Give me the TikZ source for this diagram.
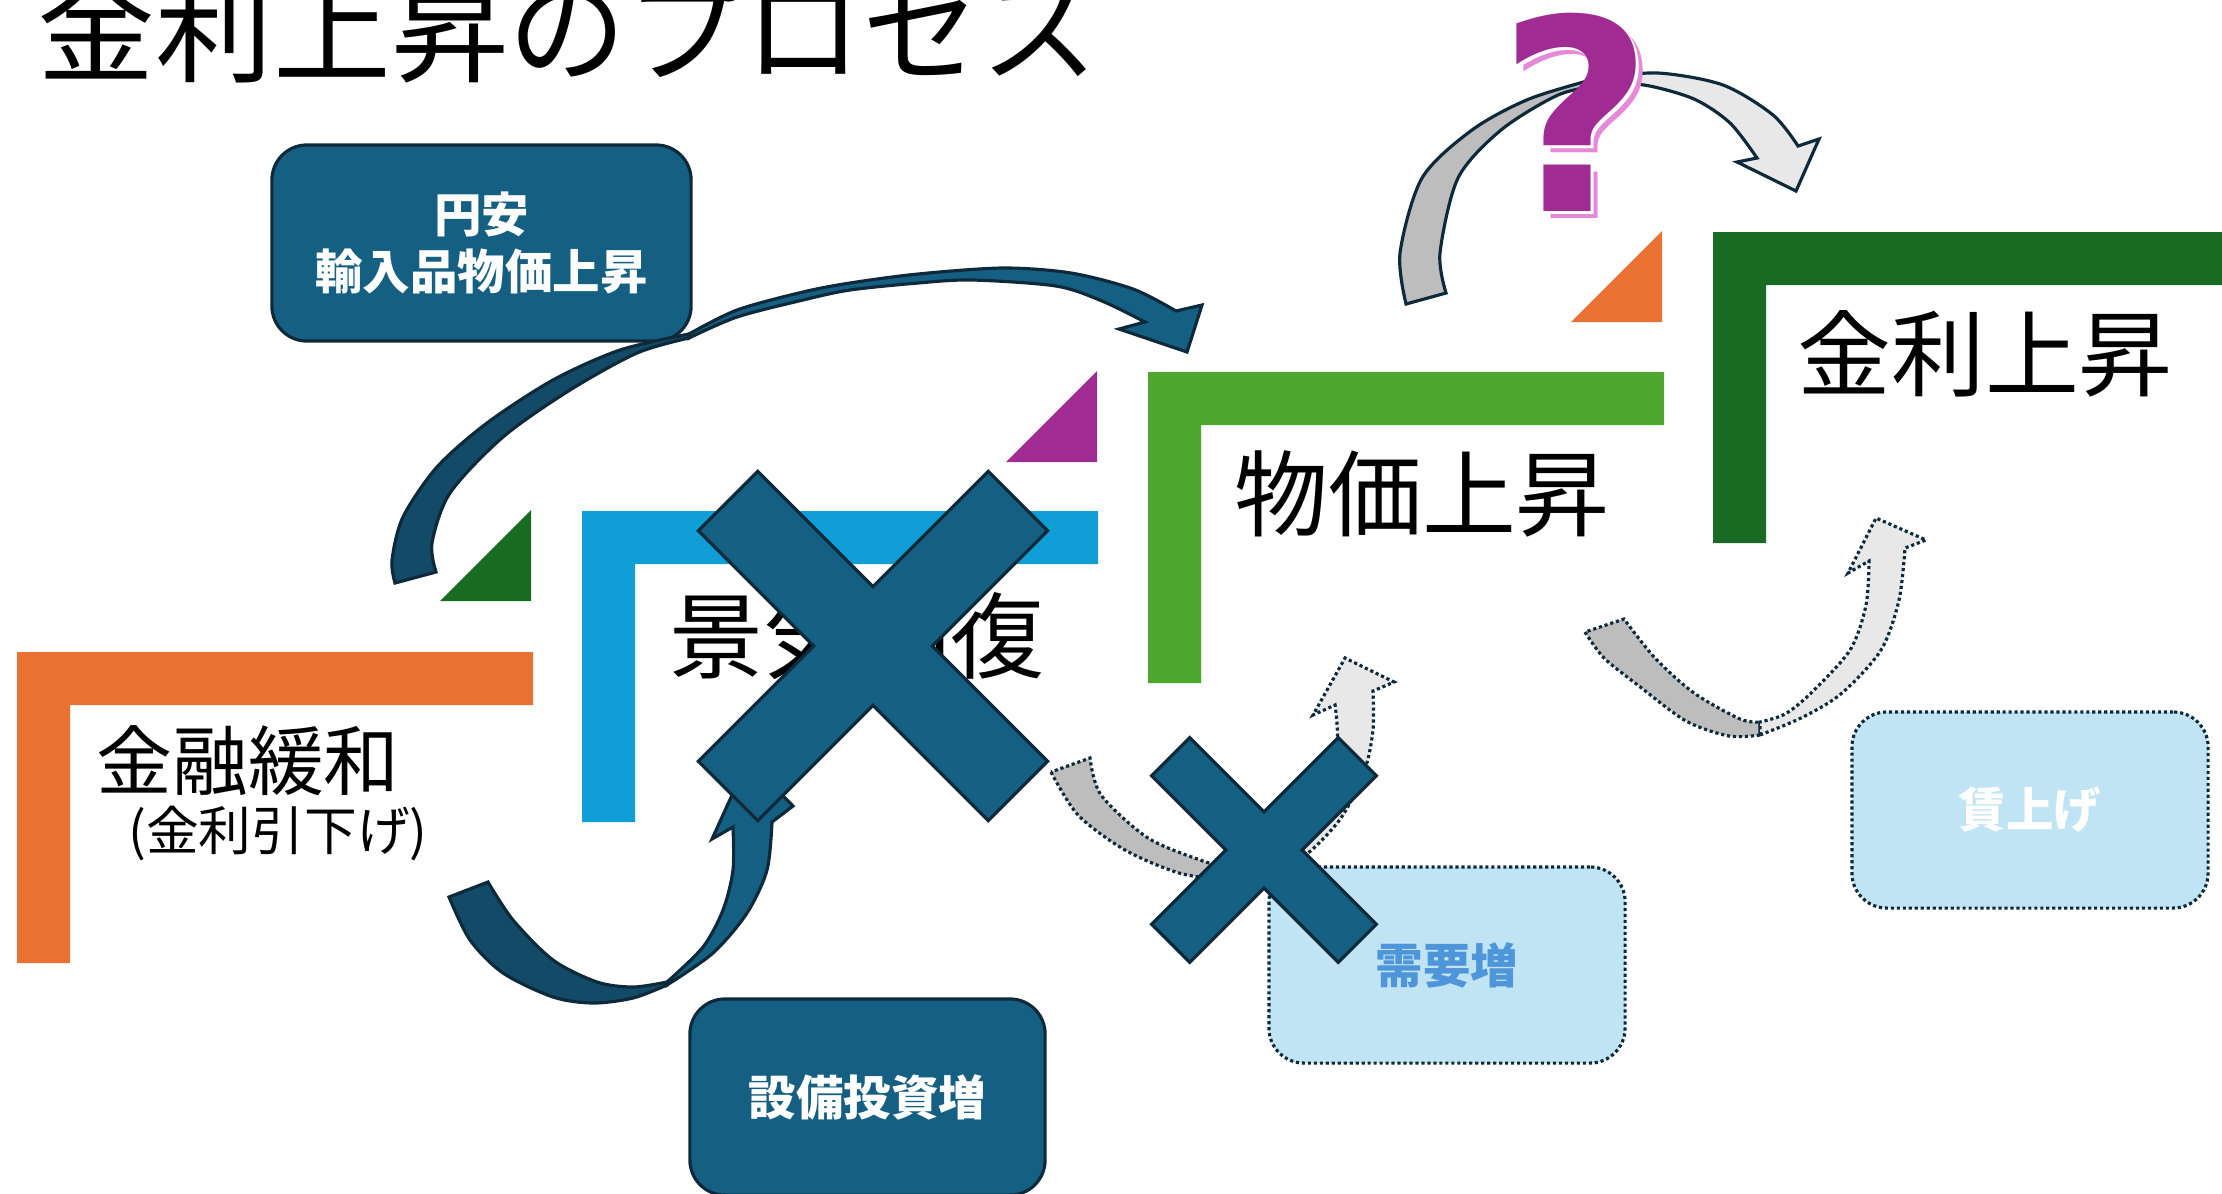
\documentclass[tikz,border=0pt]{standalone}
\usepackage{fontspec}
\setmainfont{Noto Sans CJK JP}
\newfontfamily\qfont{DejaVu Sans}
\usetikzlibrary{positioning}
\definecolor{korange}{HTML}{E97132}
\definecolor{kblue}{HTML}{0F9ED5}
\definecolor{kgreen}{HTML}{4EA72E}
\definecolor{kdgreen}{HTML}{196B24}
\definecolor{kmagenta}{HTML}{A02B93}
\definecolor{kpink}{HTML}{E58AD8}
\definecolor{knavy}{HTML}{156082}
\definecolor{knavydark}{HTML}{134A68}
\definecolor{kline}{HTML}{0E2A3A}
\definecolor{kpale}{HTML}{C1E4F5}
\definecolor{kmid}{HTML}{4E95D9}
\definecolor{kgray}{HTML}{BDBDBD}
\definecolor{klgray}{HTML}{E8E8E8}

\begin{document}
\begin{tikzpicture}[x=0.01cm,y=-0.01cm,
  biglabel/.style={font=\fontsize{26.7}{30}\selectfont},
  darkbox/.style={draw=kline,line width=0.9pt,fill=knavy,rounded corners=0.35cm,
    minimum width=4.19cm,minimum height=1.96cm,text=white,align=center,
    font=\fontsize{13.5}{16.2}\selectfont\bfseries},
  palebox/.style={draw=kline,line width=0.9pt,dash pattern=on 0.9pt off 0.8pt,fill=kpale,
    rounded corners=0.35cm,minimum width=3.56cm,minimum height=1.96cm,
    font=\fontsize{13.5}{16.2}\selectfont\bfseries},
  blkarrow/.style={draw=kline,line width=0.9pt,fill=knavy},
  blkback/.style={draw=kline,line width=0.9pt,fill=knavydark},
  gryarrow/.style={draw=kline,line width=0.9pt,fill=klgray},
  gryback/.style={draw=kline,line width=0.9pt,fill=kgray},
  dotarrow/.style={draw=kline,line width=0.9pt,dash pattern=on 0.9pt off 0.8pt,fill=klgray},
  dotback/.style={draw=kline,line width=0.9pt,dash pattern=on 0.9pt off 0.8pt,fill=kgray},
  xmark/.style={draw=kline,line width=0.9pt,fill=knavy},
  qmark/.style={inner sep=0,font=\qfont\fontsize{76}{78}\selectfont\bfseries}]
\useasboundingbox (0,0) rectangle (2222,1193);
\fill[white] (0,0) rectangle (2222,1193);

% steps
\foreach \lx/\ly/\lcol in {17/652/korange,582/511/kblue,1148/372/kgreen,1713/232/kdgreen}
  \fill[\lcol] (\lx,\ly) -- ++(516,0) -- ++(0,53) -- ++(-463,0) -- ++(0,258) -- ++(-53,0) -- cycle;
\foreach \tx/\ty/\tcol in {531/601/kdgreen,1097/462/kmagenta,1662/322/korange}
  \fill[\tcol] (\tx,\ty) -- ++(-91,0) -- ++(91,-91) -- cycle;

\node[anchor=west,inner sep=0,font=\fontsize{33.5}{36}\selectfont] (title) at (37,29) {金利上昇のプロセス};
\node[font=\fontsize{21.6}{24}\selectfont] (kanwa) at (248,761) {金融緩和};
\node[font=\fontsize{15}{18}\selectfont] (hikisage) at (278,833) {(金利引下げ)};
\node[biglabel] (keiki) at (857,636) {景気回復};
\node[biglabel] (bukka) at (1422,494) {物価上昇};
\node[biglabel] (kinrijo) at (1985,354) {金利上昇};

\node[darkbox] (enyasu) at (481.5,243) {円安\\輸入品物価上昇};
\node[darkbox,minimum width=3.55cm] (setsubi) at (867.5,1097) {設備投資増};
\node[palebox,text=kmid] (juyo) at (1447,965) {需要増};
\node[palebox,text=white] (chinage) at (2030,810) {賃上げ};

% arrows
\filldraw[blkback] plot[smooth] coordinates {(395,583) (392,560) (403,517) (437,467) (487,423) (553,380) (620,350) (689,334)}
  -- plot[smooth] coordinates {(689,338) (637,353) (570,390) (503,437) (450,493) (432,543) (436,572)} -- cycle;
\filldraw[blkarrow] plot[smooth] coordinates {(689,334) (737,310) (803,292) (850,283) (918,274) (1003,268) (1071,273) (1133,289) (1176,311)}
  -- (1202,305) -- (1187,352) -- (1119,329)
  -- plot[smooth] coordinates {(1145,322) (1102,301) (1056,286) (972,280) (918,283) (850,290) (803,300) (737,317) (689,338)} -- cycle;

\filldraw[blkback] plot[smooth] coordinates {(449,897) (470,940) (503,973) (553,997) (593,1003) (633,998) (667,985)}
  -- plot[smooth] coordinates {(667,982) (633,987) (597,982) (553,960) (513,920) (488,882)} -- cycle;
\filldraw[blkarrow] plot[smooth] coordinates {(667,985) (713,953) (747,913) (767,870) (772,822)}
  -- (793,806) -- (748,760) -- (712,839)
  -- plot[smooth] coordinates {(733,827) (733,870) (723,910) (703,947) (667,982)} -- cycle;

\filldraw[gryback] plot[smooth] coordinates {(1406,304) (1400,253) (1422,178) (1472,130) (1529,99) (1598,78)}
  -- plot[smooth] coordinates {(1601,85) (1558,95) (1501,130) (1458,178) (1440,253) (1446,293)} -- cycle;
\filldraw[gryarrow] plot[smooth] coordinates {(1598,78) (1658,73) (1723,85) (1773,115) (1798,146)}
  -- (1819,139) -- (1796,191) -- (1737,162)
  -- plot[smooth] coordinates {(1757,158) (1730,123) (1694,99) (1644,85) (1601,85)} -- cycle;

\filldraw[dotback] plot[smooth] coordinates {(1051,772) (1078,815) (1125,850) (1179,873) (1225,880)}
  -- plot[smooth] coordinates {(1225,866) (1203,861) (1148,838) (1101,795) (1090,758)} -- cycle;
\filldraw[dotarrow] plot[smooth] coordinates {(1225,880) (1290,866) (1338,822) (1364,772) (1373,730) (1373,691)}
  -- (1394,682) -- (1345,658) -- (1313,715)
  -- plot[smooth] coordinates {(1335,705) (1337,744) (1322,795) (1285,840) (1250,860) (1225,866)} -- cycle;

\filldraw[dotback] plot[smooth] coordinates {(1585,632) (1604,658) (1639,686) (1686,721) (1729,736) (1760,735)}
  -- plot[smooth] coordinates {(1760,722) (1740,719) (1694,693) (1655,658) (1624,619)} -- cycle;
\filldraw[dotarrow] plot[smooth] coordinates {(1760,735) (1803,717) (1842,693) (1881,650) (1899,600) (1905,548)}
  -- (1926,540) -- (1876,518) -- (1848,573)
  -- plot[smooth] coordinates {(1869,561) (1866,605) (1850,650) (1811,693) (1785,714) (1760,722)} -- cycle;

% crosses
\foreach \cx/\cy/\len/\wid in {873/646/205/42,1264/850/132/27}
  \filldraw[xmark,shift={(\cx,\cy)},rotate=45] (\len,\wid) -- (\wid,\wid) -- (\wid,\len) -- (-\wid,\len)
    -- (-\wid,\wid) -- (-\len,\wid) -- (-\len,-\wid) -- (-\wid,-\wid) -- (-\wid,-\len) -- (\wid,-\len)
    -- (\wid,-\wid) -- (\len,-\wid) -- cycle;

\node[qmark,text=kpink] (qshadow) at (1583,119) {?};
\node[qmark,text=white] (qedge) at (1579,115) {?};
\node[qmark,text=kmagenta] (question) at (1576,112) {?};
\end{tikzpicture}
\end{document}
